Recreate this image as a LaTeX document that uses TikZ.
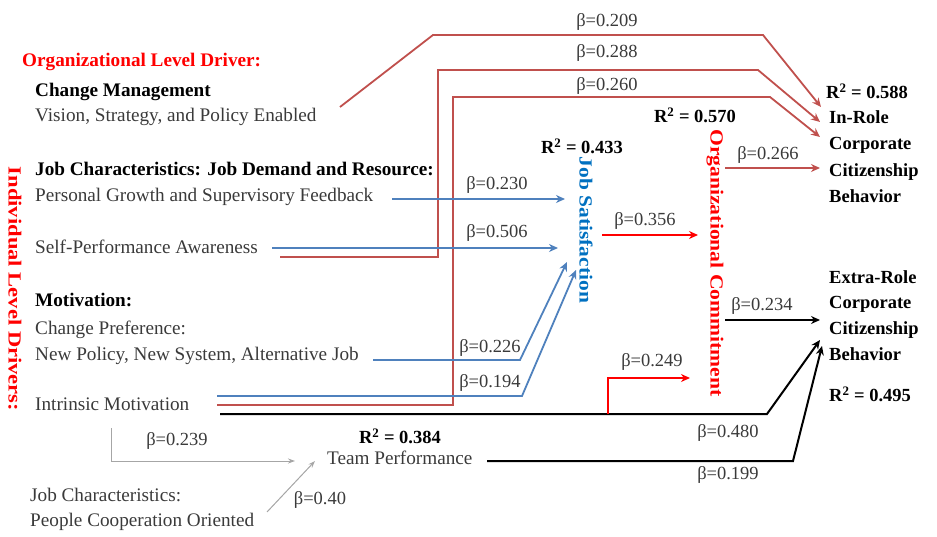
\documentclass[tikz,border=0pt]{standalone}
\usepackage{graphicx}
\usepackage{fontspec}
\setmainfont{Liberation Serif}
\usetikzlibrary{arrows.meta}
\definecolor{rolered}{HTML}{C0504D}
\definecolor{satblue}{HTML}{4F81BD}
\definecolor{jsblue}{HTML}{0070C0}
\definecolor{txtgray}{HTML}{3A3A3A}
\definecolor{arrgray}{HTML}{A6A6A6}
\newcommand{\szf}{\fontsize{19.2}{25}\selectfont}
\newcommand{\smf}{\fontsize{18.5}{25}\selectfont}
\newcommand{\plaintxt}{\node[anchor=west, inner sep=0pt, text=txtgray, font=\szf, text height=13pt, text depth=4pt]}
\newcommand{\boldtxt}{\node[anchor=west, inner sep=0pt, font=\szf\bfseries, text height=13pt, text depth=4pt]}
\newcommand{\coef}{\node[inner sep=0pt, text=txtgray, font=\smf]}
\newcommand{\rsq}{\node[inner sep=0pt, font=\smf\bfseries]}
\newcommand{\sidetxt}{\node[rotate=-90, inner sep=0pt, font=\smf\bfseries]}

\begin{document}
\begin{tikzpicture}[x=1pt, y=-1pt, >={Stealth[length=9pt,width=8pt]},
    rl/.style={draw=rolered, line width=1.8pt},
    bl/.style={draw=satblue, line width=1.8pt},
    rd/.style={draw=red, line width=1.8pt},
    bk/.style={draw=black, line width=2pt},
    gy/.style={draw=arrgray, line width=1pt, >={Stealth[length=7pt,width=5pt]}}]
					\useasboundingbox (0,0) rectangle (937,537);
					% drivers on the left
					\node[anchor=west, inner sep=0pt, text=red, font=\szf\bfseries] (orglevel) at (22,62) {Organizational Level Driver:};
					\boldtxt (chmgmt) at (35,92) {Change Management};
					\plaintxt (vision) at (35,117) {Vision, Strategy, and Policy Enabled};
					\boldtxt (jobchar) at (35,171) {Job Characteristics: Job Demand and Resource:};
					\plaintxt (growth) at (35,197) {Personal Growth and Supervisory Feedback};
					\plaintxt (selfperf) at (35,249) {Self-Performance Awareness};
					\boldtxt (motiv) at (35,302) {Motivation:};
					\plaintxt (chpref) at (35,330) {Change Preference:};
					\plaintxt (newpol) at (35,356) {New Policy, New System, Alternative Job};
					\plaintxt (intrinsic) at (35,406) {Intrinsic Motivation};
					\sidetxt[text=red] (indiv) at (15,289) {\scalebox{1.22}[1]{Individual Level Drivers:}};
					\node[anchor=north west, align=left, inner sep=0pt, text=txtgray, font=\szf] (coop) at (30,488) {Job Characteristics:\\People Cooperation Oriented};
					% mediators and outcomes
					\plaintxt (team) at (327,460) {Team Performance};
					\rsq (r384) at (400,436) {R\textsuperscript{2} = 0.384};
					\rsq (r433) at (582,146) {R\textsuperscript{2} = 0.433};
					\rsq (r570) at (695,115) {R\textsuperscript{2} = 0.570};
					\rsq[anchor=west] (r588) at (826,91) {R\textsuperscript{2} = 0.588};
					\rsq[anchor=west] (r495) at (829,394) {R\textsuperscript{2} = 0.495};
					\sidetxt[text=jsblue] (jobsat) at (586,230) {\scalebox{1.16}[1]{Job Satisfaction}};
					\sidetxt[text=red] (orgcom) at (715,263) {\scalebox{1.17}[1]{Organizational Commitment}};
					\node[anchor=north west, align=left, inner sep=0pt, font=\fontsize{18.5}{26.5}\selectfont\bfseries] (inrole) at (829,110) {In-Role\\Corporate\\Citizenship\\Behavior};
					\node[anchor=north west, align=left, inner sep=0pt, font=\fontsize{18.5}{25.7}\selectfont\bfseries] (extrarole) at (829,270) {Extra-Role\\Corporate\\Citizenship\\Behavior};
					% bend points and arrow ends
					\coordinate (v0) at (340,107); \coordinate (v1) at (433,35); \coordinate (v2) at (763,35); \coordinate (ir1) at (821,107);
					\coordinate (s0) at (280,257); \coordinate (s1) at (438,257); \coordinate (s2) at (438,70); \coordinate (s3) at (758,70); \coordinate (ir2) at (820,122);
					\coordinate (m0) at (217,405); \coordinate (m1) at (453,405); \coordinate (m2) at (453,97); \coordinate (m3) at (770,97); \coordinate (ir3) at (820,137);
					\coordinate (oc1) at (725,168); \coordinate (ir4) at (820,168);
					\coordinate (g0) at (392,199); \coordinate (js1) at (565,199);
					\coordinate (p0) at (272,248); \coordinate (js2) at (558,248);
					\coordinate (n0) at (373,360); \coordinate (n1) at (520,360); \coordinate (js3) at (567,262);
					\coordinate (b0) at (217,396); \coordinate (b1) at (522,396); \coordinate (js4) at (576,270);
					\coordinate (js5) at (602,235); \coordinate (oc2) at (698,235);
					\coordinate (k0) at (220,414); \coordinate (k1) at (767,414); \coordinate (er1) at (820,340);
					\coordinate (t0) at (487,461); \coordinate (t1) at (793,461); \coordinate (er2) at (822,346);
					\coordinate (oc3) at (725,320); \coordinate (er3) at (820,320);
					\coordinate (e0) at (608,414); \coordinate (e1) at (608,378); \coordinate (oc4) at (690,378);
					\coordinate (i0) at (111,428); \coordinate (i1) at (111,461); \coordinate (tp1) at (295,461);
					\coordinate (c0) at (267,512); \coordinate (tp2) at (315,461);
					% paths
					\draw[rl, ->] (v0) -- (v1) -- (v2) -- (ir1);
					\draw[rl, ->] (s0) -- (s1) -- (s2) -- (s3) -- (ir2);
					\draw[rl, ->] (m0) -- (m1) -- (m2) -- (m3) -- (ir3);
					\draw[rl, ->] (oc1) -- (ir4);
					\draw[bl, ->] (g0) -- (js1);
					\draw[bl, ->] (p0) -- (js2);
					\draw[bl, ->] (n0) -- (n1) -- (js3);
					\draw[bl, ->] (b0) -- (b1) -- (js4);
					\draw[rd, ->] (js5) -- (oc2);
					\draw[bk, ->] (k0) -- (k1) -- (er1);
					\draw[bk, ->] (t0) -- (t1) -- (er2);
					\draw[bk, ->] (oc3) -- (er3);
					\draw[rd, ->] (e0) -- (e1) -- (oc4);
					\draw[gy, ->] (i0) -- (i1) -- (tp1);
					\draw[gy, ->] (c0) -- (tp2);
					% coefficients
					\coef (b209) at (607,22) {β=0.209};
					\coef (b288) at (607,53) {β=0.288};
					\coef (b260) at (607,86) {β=0.260};
					\coef (b266) at (768,155) {β=0.266};
					\coef (b230) at (497,185) {β=0.230};
					\coef (b506) at (497,233) {β=0.506};
					\coef (b226) at (490,348) {β=0.226};
					\coef (b194) at (490,383) {β=0.194};
					\coef (b356) at (645,221) {β=0.356};
					\coef (b249) at (652,362) {β=0.249};
					\coef (b234) at (762,306) {β=0.234};
					\coef (b480) at (728,433) {β=0.480};
					\coef (b199) at (728,475) {β=0.199};
					\coef (b239) at (177,441) {β=0.239};
					\coef (b40) at (320,500) {β=0.40};
				\end{tikzpicture}
\end{document}
